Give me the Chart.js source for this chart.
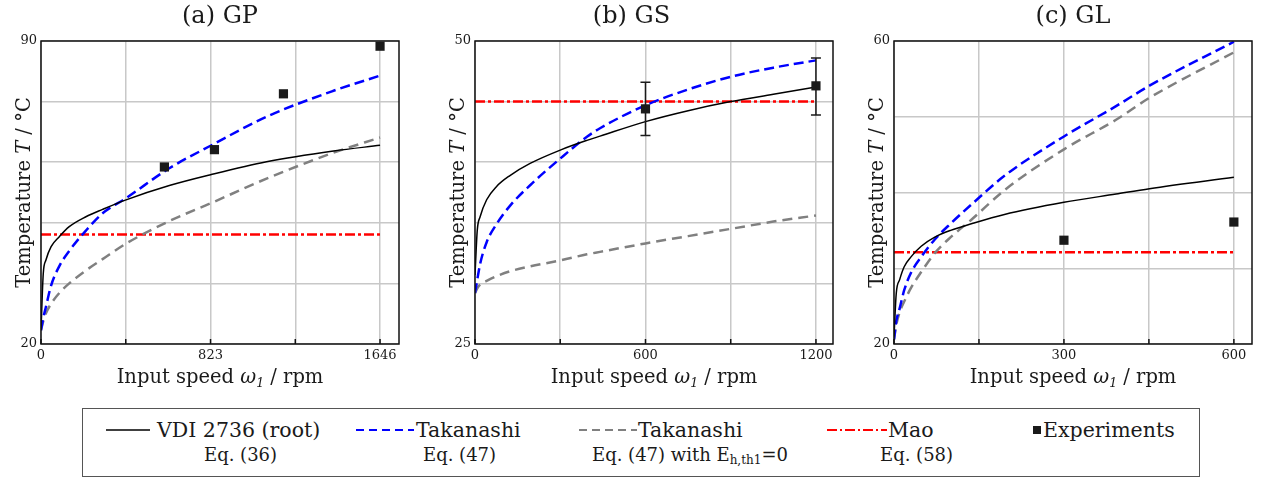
<!DOCTYPE html>
<html>
<head>
<meta charset="utf-8">
<script src="https://cdn.jsdelivr.net/npm/chart.js@4.4.1/dist/chart.umd.min.js"></script>
<style>
  body { margin: 0; background: #fff; width: 1264px; height: 480px; position: relative; overflow: hidden;
         font-family: "DejaVu Serif", "Liberation Serif", serif; color: #1a1a1a; }
  canvas { position: absolute; top: 0; }
  #legendBox { position: absolute; left: 82px; top: 408px; width: 1118px; height: 69px;
               border: 1.5px solid #555; box-sizing: border-box; }
  .lg { position: absolute; white-space: nowrap; line-height: 1; }
  .r1 { top: 420px; font-size: 20.5px; }
  .r2 { top: 446px; font-size: 18px; }
  .lg sub { font-size: 12px; vertical-align: -3px; }
  svg.smp { position: absolute; top: 424px; height: 12px; }
</style>
</head>
<body>
<canvas id="gp" width="420" height="400" style="left:0px"></canvas>
<canvas id="gs" width="420" height="400" style="left:430px"></canvas>
<canvas id="gl" width="414" height="400" style="left:850px"></canvas>

<div id="legendBox"></div>
<svg class="smp" style="left:106px" width="44"><line x1="0" y1="6" x2="44" y2="6" stroke="#000" stroke-width="1.5"/></svg>
<div class="lg r1" style="left:157px">VDI 2736 (root)</div>
<div class="lg r2" style="left:204px">Eq. (36)</div>
<svg class="smp" style="left:356px" width="58"><line x1="0" y1="6" x2="58" y2="6" stroke="#0000ff" stroke-width="2" stroke-dasharray="8 5"/></svg>
<div class="lg r1" style="left:416px">Takanashi</div>
<div class="lg r2" style="left:423px">Eq. (47)</div>
<svg class="smp" style="left:579px" width="58"><line x1="0" y1="6" x2="58" y2="6" stroke="#808080" stroke-width="2" stroke-dasharray="8 5"/></svg>
<div class="lg r1" style="left:638px">Takanashi</div>
<div class="lg r2" style="left:592px">Eq. (47) with E<sub>h,th1</sub>=0</div>
<svg class="smp" style="left:827px" width="60"><line x1="0" y1="6" x2="60" y2="6" stroke="#ff0000" stroke-width="2" stroke-dasharray="10 3 2 3"/></svg>
<div class="lg r1" style="left:888px">Mao</div>
<div class="lg r2" style="left:880px">Eq. (58)</div>
<svg class="smp" style="left:1033px" width="8"><rect x="0" y="2" width="8" height="8" fill="#1a1a1a"/></svg>
<div class="lg r1" style="left:1043px">Experiments</div>

<script>
// (a) GP
const gpSpeed = [0, 11, 24, 49, 89, 137, 218, 299, 413, 623, 823, 1095, 1420, 1646];
const gpVdi = [23.2, 36.3, 39.4, 42.5, 44.8, 47.1, 49.4, 51.1, 53.3, 56.6, 59.1, 62.1, 64.6, 65.9];
const gpTakanashi = [23.2, 26.0, 28.6, 33.5, 38.0, 41.5, 46.2, 50.2, 53.7, 60.6, 65.8, 72.5, 78.5, 82.0];
const gpTakanashiE0 = [23.2, 25.3, 27.1, 29.3, 31.8, 34.0, 37.0, 39.6, 43.2, 48.4, 52.5, 58.2, 64.2, 67.7];
const gpMao = 45.3;
const gpExpSpeed = [599, 842, 1177, 1646];
const gpExpTemp = [60.9, 64.9, 77.8, 88.8];
const gpGridTicks = [0, 411.5, 823, 1234.5, 1646];
const gpTickLabels = [0, 823, 1646];

// (b) GS
const gsSpeed = [0, 8, 18, 41, 76, 123, 194, 300, 394, 440, 600, 750, 900, 1050, 1200];
const gsVdi = [30.7, 34.4, 35.5, 36.9, 38.0, 38.9, 39.9, 41.0, 41.8, 42.15, 43.35, 44.25, 45.0, 45.6, 46.2];
const gsTakanashi = [29.2, 30.3, 31.6, 33.4, 34.9, 36.4, 38.1, 40.3, 42.1, 42.8, 44.7, 46.0, 47.05, 47.8, 48.4];
const gsTakanashiE0 = [29.2, 29.6, 29.9, 30.2, 30.6, 31.0, 31.4, 31.9, 32.4, 32.6, 33.3, 33.9, 34.5, 35.1, 35.6];
const gsMao = 45.0;
const gsExpSpeed = [600, 1200];
const gsExpTemp = [44.4, 46.3];
const gsErrLow = [42.2, 43.9];
const gsErrHigh = [46.6, 48.6];
const gsGridTicks = [0, 300, 600, 900, 1200];
const gsTickLabels = [0, 600, 1200];

// (c) GL
const glSpeed = [0, 4, 10, 18, 30, 48, 72, 100, 138, 195, 300, 392, 451, 600];
const glVdi = [21.0, 26.7, 28.5, 30.2, 31.5, 32.9, 34.1, 35.0, 35.9, 37.1, 38.7, 39.8, 40.5, 42.0];
const glTakanashi = [20.6, 23.0, 24.7, 27.1, 29.4, 31.5, 33.8, 35.9, 38.5, 42.2, 47.4, 51.4, 54.1, 59.9];
const glTakanashiE0 = [20.6, 22.5, 24.2, 25.6, 27.4, 29.5, 32.0, 34.1, 36.5, 40.3, 45.7, 49.6, 52.5, 58.5];
const glMao = 32.1;
const glExpSpeed = [300, 600];
const glExpTemp = [33.7, 36.1];
const glGridTicks = [0, 150, 300, 450, 600];
const glTickLabels = [0, 300, 600];

const FONT = '"DejaVu Serif", "Liberation Serif", serif';
const INK = '#1a1a1a';
const GRID = '#c8c8c8';

const xTitleParts = [{t: 'Input speed '}, {t: 'ω', it: true}, {t: '1', it: true, sub: true}, {t: ' / rpm'}];
const yTitleParts = [{t: 'Temperature '}, {t: 'T', it: true}, {t: ' / °C'}];

function toXY(xs, ys) {
  return xs.map((x, i) => ({x: x, y: ys[i]}));
}

function drawParts(ctx, parts, cx, baseY) {
  const fontOf = p => (p.it ? 'italic ' : '') + (p.sub ? 12.5 : 19.5) + 'px ' + FONT;
  let w = 0;
  parts.forEach(p => { ctx.font = fontOf(p); w += ctx.measureText(p.t).width; });
  let x = cx - w / 2;
  parts.forEach(p => {
    ctx.font = fontOf(p);
    ctx.fillText(p.t, x, baseY + (p.sub ? 4 : 0));
    x += ctx.measureText(p.t).width;
  });
}

// frame round the plot area + small inner ticks at the bottom
const frame = {
  id: 'frame',
  afterDatasetsDraw(chart) {
    const {ctx, chartArea: a, scales} = chart;
    ctx.save();
    ctx.strokeStyle = '#111';
    ctx.lineWidth = 1.5;
    ctx.strokeRect(a.left, a.top, a.right - a.left, a.bottom - a.top);
    scales.x.ticks.forEach(t => {
      const px = scales.x.getPixelForValue(t.value);
      ctx.beginPath();
      ctx.moveTo(px, a.bottom);
      ctx.lineTo(px, a.bottom - 5);
      ctx.stroke();
    });
    ctx.restore();
  }
};

const errorBars = {
  id: 'errorBars',
  afterDatasetsDraw(chart, args, opts) {
    if (!opts.speed) return;
    const {ctx, scales: {x, y}} = chart;
    ctx.save();
    ctx.strokeStyle = INK;
    ctx.lineWidth = 1.5;
    opts.speed.forEach((s, i) => {
      const px = x.getPixelForValue(s);
      const lo = y.getPixelForValue(opts.low[i]);
      const hi = y.getPixelForValue(opts.high[i]);
      ctx.beginPath();
      ctx.moveTo(px, lo); ctx.lineTo(px, hi);
      ctx.moveTo(px - 5, lo); ctx.lineTo(px + 5, lo);
      ctx.moveTo(px - 5, hi); ctx.lineTo(px + 5, hi);
      ctx.stroke();
    });
    ctx.restore();
  }
};

const axisTitles = {
  id: 'axisTitles',
  afterDraw(chart) {
    const {ctx, chartArea: a} = chart;
    ctx.save();
    ctx.fillStyle = INK;
    ctx.textAlign = 'left';
    ctx.textBaseline = 'alphabetic';
    drawParts(ctx, xTitleParts, (a.left + a.right) / 2, 383);
    ctx.translate(a.left - 11.5, (a.top + a.bottom) / 2);
    ctx.rotate(-Math.PI / 2);
    drawParts(ctx, yTitleParts, 0, 0);
    ctx.restore();
  }
};

function makeChart(id, s) {
  const last = s.speed.length - 1;
  return new Chart(document.getElementById(id), {
    type: 'scatter',
    data: {
      datasets: [
        {label: 'Experiments', data: toXY(s.expSpeed, s.expTemp), pointStyle: 'rect', pointRadius: 6.5,
         backgroundColor: INK, borderColor: INK, borderWidth: 0, showLine: false},
        {label: 'VDI 2736 (root)', data: toXY(s.speed, s.vdi), showLine: true, borderColor: '#000',
         borderWidth: 1.5, pointRadius: 0, cubicInterpolationMode: 'monotone'},
        {label: 'Takanashi', data: toXY(s.speed, s.tak), showLine: true, borderColor: '#0000ff',
         borderWidth: 2.5, borderDash: [10, 5], pointRadius: 0, cubicInterpolationMode: 'monotone'},
        {label: 'Takanashi E0', data: toXY(s.speed, s.takE0), showLine: true, borderColor: '#808080',
         borderWidth: 2.5, borderDash: [10, 6], pointRadius: 0, cubicInterpolationMode: 'monotone'},
        {label: 'Mao', data: [{x: s.speed[0], y: s.mao}, {x: s.speed[last], y: s.mao}], showLine: true,
         borderColor: '#ff0000', borderWidth: 2.5, borderDash: [10, 3, 3, 3], pointRadius: 0}
      ]
    },
    options: {
      responsive: false,
      animation: false,
      devicePixelRatio: 1,
      layout: {padding: {top: 2, left: 0, right: s.rightPad, bottom: 0}},
      plugins: {
        legend: {display: false},
        tooltip: {enabled: false},
        title: {display: true, text: s.title, fullSize: s.titleFull, color: INK,
                font: {family: FONT, size: 24, weight: 'normal'}, padding: {top: 0, bottom: 10.2}},
        errorBars: s.err || false
      },
      scales: {
        x: {
          type: 'linear', min: 0, max: s.xMax,
          afterBuildTicks: sc => { sc.ticks = s.gridTicks.map(v => ({value: v})); },
          afterFit: sc => { sc.height = 56; },
          ticks: {autoSkip: false, maxRotation: 0, padding: 4, color: INK,
                  font: {family: FONT, size: 13},
                  callback: v => s.tickLabels.includes(v) ? String(v) : ''},
          grid: {color: GRID, lineWidth: 1.5, drawTicks: false},
          border: {display: false}
        },
        y: {
          min: s.yMin, max: s.yMax,
          afterFit: sc => { sc.width = s.yWidth; },
          ticks: {stepSize: s.yStep, padding: 4, color: INK, font: {family: FONT, size: 13},
                  callback: v => (v === s.yMin || v === s.yMax) ? String(v) : ''},
          grid: {color: GRID, lineWidth: 1.5, drawTicks: false},
          border: {display: false}
        }
      }
    },
    plugins: [frame, errorBars, axisTitles]
  });
}

makeChart('gp', {
  title: '(a) GP', titleFull: false, speed: gpSpeed, vdi: gpVdi, tak: gpTakanashi, takE0: gpTakanashiE0,
  mao: gpMao, expSpeed: gpExpSpeed, expTemp: gpExpTemp, gridTicks: gpGridTicks, tickLabels: gpTickLabels,
  xMax: 1738, yMin: 20, yMax: 90, yStep: 14, yWidth: 41, rightPad: 21
});
makeChart('gs', {
  title: '(b) GS', titleFull: true, speed: gsSpeed, vdi: gsVdi, tak: gsTakanashi, takE0: gsTakanashiE0,
  mao: gsMao, expSpeed: gsExpSpeed, expTemp: gsExpTemp, gridTicks: gsGridTicks, tickLabels: gsTickLabels,
  xMax: 1260, yMin: 25, yMax: 50, yStep: 5, yWidth: 45, rightPad: 17,
  err: {speed: gsExpSpeed, low: gsErrLow, high: gsErrHigh}
});
makeChart('gl', {
  title: '(c) GL', titleFull: false, speed: glSpeed, vdi: glVdi, tak: glTakanashi, takE0: glTakanashiE0,
  mao: glMao, expSpeed: glExpSpeed, expTemp: glExpTemp, gridTicks: glGridTicks, tickLabels: glTickLabels,
  xMax: 632, yMin: 20, yMax: 60, yStep: 10, yWidth: 44, rightPad: 12
});
</script>
</body>
</html>
